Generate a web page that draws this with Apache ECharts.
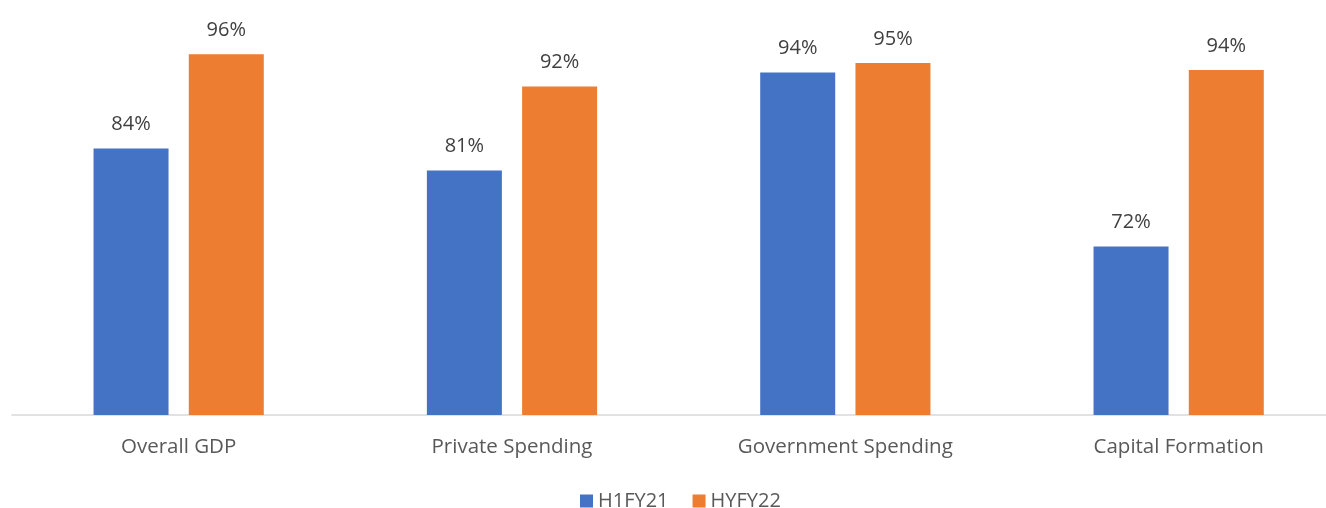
<!DOCTYPE html>
<html>
<head>
<meta charset="utf-8">
<script src="https://cdn.jsdelivr.net/npm/echarts@6/dist/echarts.min.js"></script>
<style>html,body{margin:0;padding:0;background:#fff;overflow:hidden;width:1326px;height:508px;}#c{width:1346px;height:508px;}</style>
</head>
<body>
<div id="c"></div>
<script>
const categories = ['Overall GDP', 'Private Spending', 'Government Spending', 'Capital Formation'];
const seriesNames = ['H1FY21', 'HYFY22'];
const h1fy21 = [0.840, 0.812, 0.937, 0.715];
const hyfy22 = [0.960, 0.919, 0.949, 0.940];

const FONT = '"Open Sans", sans-serif';
const chart = echarts.init(document.getElementById('c'), null, {renderer: 'canvas'});
const label = {
  show: true, position: 'top', distance: 14,
  color: '#404040', fontSize: 20, fontFamily: FONT,
  formatter: p => Math.round(p.value * 100) + '%'
};
chart.setOption({
  animation: false,
  backgroundColor: '#ffffff',
  grid: {left: 12, right: 0.67, top: 23, bottom: 93, containLabel: false},
  legend: {
    top: 491, left: 580, padding: 0, itemWidth: 13, itemHeight: 13, itemGap: 24,
    icon: 'rect',
    textStyle: {color: '#595959', fontSize: 20, fontFamily: FONT},
    data: seriesNames
  },
  xAxis: {
    type: 'category', data: categories,
    axisLine: {lineStyle: {color: '#D9D9D9', width: 1.5}},
    axisTick: {show: false},
    axisLabel: {color: '#595959', fontSize: 20.5, fontFamily: FONT, margin: 22, interval: 0}
  },
  yAxis: {
    type: 'value', min: 0.5, max: 1, show: false,
    splitLine: {show: false}
  },
  series: [
    {name: seriesNames[0], type: 'bar', data: h1fy21, barWidth: 75, barGap: '27%',
     itemStyle: {color: '#4472C4'}, label: label},
    {name: seriesNames[1], type: 'bar', data: hyfy22, barWidth: 75, barGap: '27%',
     itemStyle: {color: '#ED7D31'}, label: label}
  ]
});
</script>
</body>
</html>
